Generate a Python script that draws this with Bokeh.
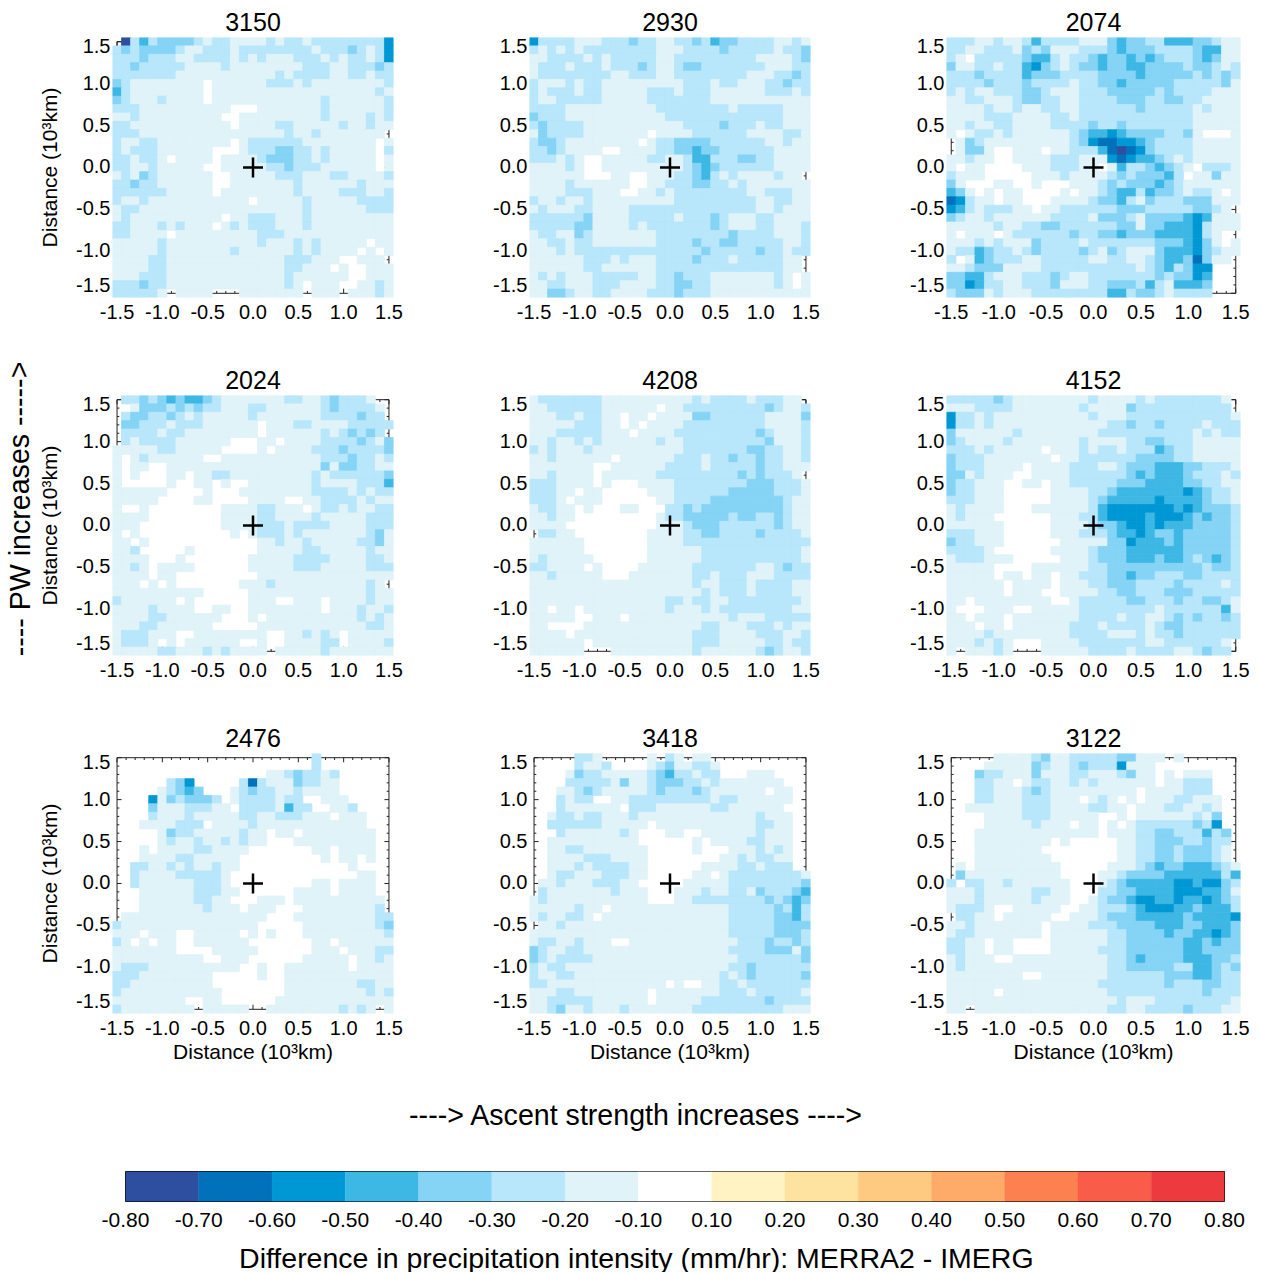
from bokeh.embed import file_html
from bokeh.resources import INLINE
from bokeh.plotting import figure
from bokeh.layouts import column, row
from bokeh.models import Range1d, FixedTicker, Label

FONT = "Liberation Sans"

# Bin colours by level: 0 = |diff| < 0.1 (left undrawn), 1 = -0.1..-0.2, ... 7 = -0.7..-0.8
LEVEL_COLORS = [None, "#DFF3F8", "#B8E6FA", "#85D3F5", "#3DB7E4", "#0098D4", "#0071BA", "#2E4FA0"]

CB_BOUNDS = [-0.8, -0.7, -0.6, -0.5, -0.4, -0.3, -0.2, -0.1, 0.1, 0.2, 0.3, 0.4, 0.5, 0.6, 0.7, 0.8]
CB_COLORS = ["#2E4FA0", "#0071BA", "#0098D4", "#3DB7E4", "#85D3F5", "#B8E6FA", "#DFF3F8", "#FFFFFF",
             "#FFF3C4", "#FEE29F", "#FEC980", "#FEAB6A", "#FD8050", "#FA5C4A", "#EC3A3F"]

TITLES = ["3150", "2930", "2074", "2024", "4208", "4152", "2476", "3418", "3122"]

TICKS = [-1.5, -1.0, -0.5, 0.0, 0.5, 1.0, 1.5]
TICK_LABELS = ["-1.5", "-1.0", "-0.5", "0.0", "0.5", "1.0", "1.5"]

# Each row: top (y=1.5) to bottom (y=-1.5); each char a level, x=-1.5 to x=1.5
P3150 = [
"0 7 2 4 2 3333 2 1 22 1111 2 1 22 1 22222222 5",
"2 3 2 3333 2 11 222 1 22222222 1 222 3 2 1 2 5",
"222 3 222 11 2222 1 2 1 2 111 222 1 2 1 22 1 2 5",
"22 3 22222 1111 2 11111111 222 11 222 3 2",
"2222222 11111111111 2 1 2222 11 22 1 22",
"3 2 11111111 0 111111 222 1 2 11111111 2",
"4 2 11111111 0 111111111111111111 2 1",
"3 2 111 2 1111 0 111111111111 2 111111 2",
"222 1111111111 000 1111111 2 111111 2",
"11 2 111111111 00 111111111 2 1111 2 1 2",
"22 11111111111 0 1111 22 11111 2 11 2 11",
"222 1111111111111111 2 11 2 1111111 0",
"2 11 22 11111111 0 1 222222 11111111 0 1",
"2 1 222 111111 000 1 222 33 22 1 2 11111 0 2",
"22 1 22 1 0 1111 0 1111 2 333 22 1 2 11111 0 1",
"22 11 2 11111 00 11111 22 3 222 111111 0 1",
"1 2 1 3 2 111111 00 11111 222 111 22 1111 2",
"22 3 22 111111 00 1111111 2 111111 2 1111",
"222222 11111 0 11111111 2 1111 222 11 2",
"2 11 2 11111111111 0 11111 2 11111 2222",
"1 22 111111111111111111 2 111111 222",
"1 2 1111111111 0 11 222 111 2 111111111",
"22 111 2 1 2 111 0 1 2 1 222 111 2 111111111",
"22 1111 0 111111111 222 111111111111",
"11111 2 1111111111 2 111 2 1 2 11111 0 11",
"11111 2 1111111 2 111111 2 1 2 1111 0 1 0 1",
"1111 22 1111111111111 222 111 00 111 0",
"1111 22 1111111111111 22 111 0 1 00 111",
"111 222 1111111111111 2 111111 00 111",
"222 3 22 1111111111111 2 1 0 111 00 11 2 1",
"22222 1 0 1111 000 1111111 0 111 0 111 2 1",
]

P2930 = [
"5 2222 111 222 3 22 11 22 3 2 4 33 2222 11 2 1",
"212121 22222222 111 2222 3 22222 1 22 3",
"11 2222 1 2 1 22222 11 222222222 1111 2 3",
"1 222 1 222 1 2 2 2 3 2 11 2 33 222222 2 111 22",
"1 22222222 11 222 11 22222222 111 22 3 2",
"2 111 2 1 22 111111111 222 1 22 111 22 3 2 2",
"2 1 222 1 22 11111 222 1 222 111111 222 1 2",
"2 11 22222 11111 2222222 11111111111",
"2222 1111111111 22222222 1 22222 111",
"3 222 11111111111 2222222222222 111",
"2 3 2222 11111111111 2222 3 222 1 22 111",
"1 3 2222 1111111 0 1111 222222 1111 22 1",
"2 33 2 11111111 0 1 22 3333 222222 11 2 11",
"22 3 2 1111 00 1111 22 33 4 33 222222 1111",
"222 1 2 1 00 11111 22 11 2 44 222 33 22 1111",
"1111 2 1 00 1111111 11 2 3 4 3 222222 1111",
"111111 000 11 00 111 22 3 4 2 1 2 1111 2 11 0",
"1111 2 111111 00 11 222 33 22 1 2 1111111",
"1111 222 111 00 11 2 1 22222222 11 222 11",
"2 11 2 11 2 111111111 222222222 11 22 11",
"1 2 111 22 1111 22222222222222 11 2 111",
"222222 3 1111 2222 2 1 222 3 2 111 22 1111",
"22222 33 1111 2 1 2222222 3 2 111 22 111 2",
"1 22 11 3 2 1111111 22222222 3 2222 111 2",
"11 22 1 22 1111111 2222 3 22 33 22222 11 2",
"111 2 1 22222222222222 3 22222 3 22 1 22",
"111111 222 1 2 111 2222 3 222 1 22222 11 0",
"111111 22 111111 22222222222222 11 0",
"1 2 1 2 111 22222 11 22 3 222 1111111 2 1 0 1",
"11 22 111 222 1111 22 33 22 1111111 2 1 0 1",
"11 33 2 11 22 1111 222 3 222 11111111111",
]

P2074 = [
"222 11 2 11 2 4 2222 111 3 4 33 22 444 33 2 11",
"22 11 222 1 3 2 3 111 222 3 4 333 2222 3 44 11",
"2 1 0 22222 3 44 2 1 22 3 4 33 4 3 4 3 222 3 4 3 11",
"3 11 22 1 22 4 5 3 2 1 2 33 4 33 44 3333 2 33 2 1 2",
"222 3 2222 4 3 33 2222 3333 4 33333 2 3 2 3 2",
"2222 3 222 3 2222 1 22 33 4 33 333 22222 3 1",
"2 1 2 11 222 33 2 111 222 33333 2 3 2222 111",
"11 22 111 2 33 22 11 2222 333 22 33 22 1111",
"1111 2 11 2 11 22 11 222222 3 22222 1 2 111",
"1111 222 1111 22 1 222222222222 11111",
"11 2 11 22 1111 2222 3 22 3 2222222 11111",
"1 0 1 22 1 2 111111 2 3 44 5 4 3333 22 3 1 000 1",
"0 1 3 2 111111111 2 3 5 66 55 4 3 2222 11111",
"0 1 33 1 00 111 0 11 222 4 6 7 6 5 3 2222 11111",
"11 2 11 00 1111 222 11 1 5 6 5 44 3 2 1 2 11111",
"1 0 1 1 0000 111 222 1 1 0 1 4 2 2 3 4 3 2 1 0 222 1",
"2 111 00000 111 2 1111 2 3 2 333 4 2 0 1 1 3 11",
"3 1 000 11 00 1 000 111 2 3 2 333 4 3 2 1 11111",
"4 3 1 0 1 0 11 0000 1 0 11 2 3 44 2 4 33 2 1 22 1 0 1",
"6 5 2 11 0 11 000 1111 2 33 4 2 1 3 222 333 111",
"5 4 2 1 222 11 0 11 222222 333 2 2222 33 2 1 0",
"3 2 11 2 111111 2222 1 333 2 1 3333 4 5 4 111",
"1111 1 2 11 22 33 222222 33 1 3 3 44 4 5 2 1 11",
"1 0 111 0 1 222222 3 22 33 4 333 4444 5 2 1 00",
"111 2 1 2 11 1 3 2222 1 2222222 333 4 5 3 1 0 1",
"1 22 4 3 22 1 2 3 2222 3 2 1 3 2 111 3 444 5 3 2 11",
"2 0 1 4 3 222 11 22222 11 22 11 2 3 44 3 6 3 1 1 0",
"11 2 333 1111 222222 2222 1 2 3 4 2 3 55 000",
"33 44 2 111 222 3 2 11 2222222 3 2 3 3 5 4 000",
"33 5 4 2 2 11 222 3 1 1 1 22 333 2 4 2 1 44 4 3 000",
"2 333 1 2 111 2222222 2 44 2 33 2 1 2222 000",
]

P2024 = [
"0 22 3 2 3 4 3 44 3 2 1111111 22 11 2 3 222 1 00",
"00 1 333 2 3 2 3 22 111 22 111111 2 3 2222 1 0",
"0 2 33 22 3 2 1 2 11111 2 1111111 2222 3 22 0",
"0 33 222 1 222 111111 0 11 1 22 1111 22222 0",
"0 2222 1 22 11111111 0 111111 2 1 2 3 2 3 2 0",
"0 2 1 2222 111111 000 11 0 1111 2222 3 2 1 3",
"11111 22 11111 0000 1 0 1111 222 3 2222 3",
"1 0 1 2 111111 00 11111111111 222 3 22 1 2",
"1 0 11 00 11111111111111111 3 1 33 22 11",
"1 0 1 000 11 0 11 22 111111111 2 1 222222 3",
"1 00000 1 00 11 0 1 00 1111111 2 1111 2 22 4",
"111111 0000 1 000 11111111 2222 1 2 1 22",
"11111 0000 11 0000 1111 00 11 2222 1 2 11",
"1 00 1 00000000 1111 22 111 0 1 22 1 2 11 22",
"1111 00000000 1111 22 1111 2 11111 222",
"111 000000000 1111 222 1 2222 1111 222",
"1 0 1 0000000000 1 0 1 222 1 2 1111111 2 3 1",
"11 0 1 000000000000 11 2 11 2 11111 22 3 1",
"11 2 00000 1 0000000 11111 22 11111 2 11",
"1111 000 1 0000000 11111 2222 1111 22 1",
"11 2 1 0 1111 000000 11111 222 11111 222",
"1111 0 11 00000000 0 111111111111111",
"111 0 1 0 1 0000000 111 2 1111111111 2 1 0",
"1111111111 00000 1111111111111 2 11",
"2 111111 0 1 00 0000 111 00 111 0 1111 2 11",
"1111 2 1111 00 11 00 11111111 0 111 2 11 2",
"1111 22 111111 000 1 0 1111111111 2 1 2 1",
"111 22 111111 00000 111111111111 22 1",
"1 222 111 00 11111111 00 11 2 1 2 1 0 11111",
"1 222 1 0 1 0 111111 00 1 00 1111 22 0 1111 2",
"11111 22 111 2 1 2 1111 0 11111 2 1111111",
]

P4208 = [
"1 2222222 1111111111 2 1 2222 1 222 11 0",
"11 222222 111111 0 11 222222222 3 2 11 2",
"111 22 1 22 11 0 11 0 1111 33 222222 1111 3",
"11111 222 11 0 1 0 1111 222222222 1111 2",
"111 22222 111 0 1111 222222222 3 2 111 2",
"11 2 11 2 1 2 111111 2 11 222222222 3 111 2",
"2 1 2 111 2 1111111111 2222222 33 22 11 2",
"11 2 111111 0 111111 222 1 22 3 22 3 22 11 2",
"1111111 00 111111 2222 1 22222 3 22 111",
"11 2 1111 0 111111 222222222 3 2 3 222 1 0",
"222 1111 0 1 000 1111 22222222 333 222 1",
"222 11 0 11 00000 111 222222 33333 222 1",
"222 1 0 111 000000 11 2222 33333333 2 11",
"1 22 11 0 1 000 11 000 22 3 2 333333333 2 11",
"11 2 11 000000000 1 22 33333 2 33 22 3 2 11",
"1111 0000000000 111 2 333 222222 3 2 11",
"0 22 11 00000000 1111 22 33 2222 3 2222 1",
"111111 0000000 1111 22222222222222",
"111111 0000000 111111 22222222222 1",
"1 2 11111 000000 111111 22222222222 1",
"22 1111 0 1 0000 111111 2222222 11 2 3 22",
"11 2 11111 000 1111111 22 1 222 111 2222",
"111111111111111111 2 11 222 1 2222 11",
"1111111111111111111 2 1 222 1 2222 11",
"111111111111111 22 1 22 11 22222222 1",
"11 0 11 0 111111111 2 111 2 1 22222222 11",
"11111 00 111 0 11111111111 2 111 22222",
"11 0000 1111111111111 22 111 222 1 2 11",
"1111 0 1111111111111 222 1111 222 11 2",
"111111 0 11111111111 222 11111 22 1 22",
"111111 000 111111111 2 111111 2 3 2 11 2",
]

P4152 = [
"22222 3 2 11111111 2 1111 2 1 2222222 1 0",
"111 2222 1111111 2 1111 3 2222222222 0",
"5 22 1 2 1111111111 2 111 22222222222 1",
"5 22 1 2 111111111111 22 3 22 3 2222 1 222",
"3 111111 2 11111111 2222222222 1 2 1 22",
"3 2 1111 2 1111111 2 1111 22 33 222 11111",
"222 1 2 11111 0 111 2 1 22 1 222 4 3 22 11111",
"3 222 1111111 0 11 222222 3333 22 11111",
"3 222 1111 0 1111 222 11 2 333 444 33 222 1",
"33 1 2 111 00 1111 222222 3 4 3 444 3 222 1 2",
"3 22 111 00 11 0 11 22222 333 4444 3 3 22 11",
"3 22 111 00000 1111 22 3 4444444 5 4 3 22 1",
"222 111 00000 1111 2 3 44444 5 4444 3 22 1",
"1 2 1111 000 111111 2 4 5555555 4 5 4 333 2",
"1 2 111 000000 111 22 4 5555 4 555 4 3 4 33 2",
"111111 00000 1111 2 33 4 55 4 5 444 3333 2",
"222 111 00000 111 2 22 3 44 5 4 33 4 33333 2",
"3 22 111 000000 1111 1 33 5 444 3 4 33333 2",
"2222 1 000000 1111 2 333 444444 33333 2",
"1 222 111 00000 111 2 333 444 3 44 3 2 3 4 3 2",
"11111 0000 111111 22 3333333333 2 33 2",
"11111 0 11 0 11 0 11 222 33 4 33 222 33 2222",
"111111 0 1111 0 111 22 333 2222 3 222 2 1 2",
"111111 0 111 00 1111 22 33 222 333 22222",
"11 0 11111111 00 1 22222 33 222 3 22 33 2 1",
"1 000 111 00 11111 22222222 1 222222 4 1",
"11 0 111 0 1111111 2222 1 22 11 2 3 2 3 22 3 2",
"111 0 11 0 111111 222 1 2222 1 2 33 222222",
"1111 2 11111111 2222 111 2 1 22 3 222222",
"111 2 1 2 1 000 1111 2222222 11 222222 1 0",
"1 0 111 2 1 000 11111 2222 1 2222 11 2 3 22 0",
]

P2476 = [
"0000000000000000000000 2 00000000",
"0000000000000000000000 2 00000000",
"00000000000000000 11 2 3 22 1 2 000000",
"000000 2 3 5 00000 2 6 2 11 1 3 22 11 000000",
"00000 1 2 3 4 3 000 1 2 3 22 11 2 1111 000000",
"0000 5 1 3 2 333 2 0 1 2222 1 22 00 111 00000",
"0000 3 111 222 11 0 2222 1 4 22 00 11 2 0000",
"0000 2 111 2 11111 22 11 222 111 0 111 000",
"000 1111 222 0 1111 2 111111111111 000",
"00000 1 3 22 11111 2 11 0 11 0 11111111 00",
"00000 1 2 11 2 11 2 1 2 11 000 111111111 00",
"000 1 0 1111 22 1111 0000000 11 0 1111 00",
"000 1111 22 11111 000000000 1 0 11 0 1 00",
"00 22 11 2 1 2 11 2 11 000000000000 1 0000",
"00 2 1111 22222 1 00000000000000 11 00",
"00 2 111111 222 1 000000000 11 0 1111 00",
"000 111111 222 11 000000 1111 0 1111 00",
"000 111111 22 11 000 111 0 1111111111 0",
"000 1111111 2 111 0 111 000 11111111 2 0",
"0 1111111111111111 000 111111111 22",
"2 111111111111111 00000 11111111 2 3",
"111 0 111 00 11111 0 1 0 1 000 111111111 2",
"2 1 0 1 0 11 00 111111 0000000 11 0 111111",
"1111111 0000 11111 000000 111 0 111 22",
"1111111111 00 111 000000 11111 0 11 2 1",
"1 222 1111111111 00 1 00 1111111 0 1111",
"222 11111111 00000 1 00 111111111111",
"22 111111111 00000000 11111111 22 11",
"2 11111111111 0000000 111111111 2 1 2",
"11111111 00 11 000000 1111111111111",
"2 11111111 0 11111 00 11111111 2 1 2 1 0 1",
]

P3418 = [
"00000 22 1 00000 1 0 2 1 0 11 00000000000",
"00000 2 11 2 0000 1 2 3 1 1 22 1 0000000000",
"0000 1 3 22 1111 1 2 3 4 22 1 22 000 111 0000",
"0000 22222 1 3 11 2 3 33 2 2 1 2 1111111 000",
"000 11 2 3 2 11111 2 3 222 3 2 111111 0 11 00",
"000 2 1 22 00 11 222222222 1 22 111111 00",
"000 2 111111 0 222 111111 22 111111 000",
"00 1 22 1 22 111 2 1111111111111 2 111 00",
"00 222222 11111 0 11111111111 22 11 00",
"000 2 111111 2 1 000 11 00 111111 2 111 00",
"00 1111111111 000000 1 0 1111 22 111 00",
"00 11 22 1111111 00000 1 000 111 2 1 2 1 00",
"00 1111 222 1111 00000000 11 2 1 22 11 00",
"00 111 2 1 2222 11 000000 1111 22 1 222 00",
"00 1 22 111 222 11 00000 11 0 1 22222222 1",
"0 11 2 111 222 11 00000 11111 22222222 3",
"0 2 1111111 2 111 000 111 2 11 22 1 3 22 2 3 4",
"1 2 11111111111 000 11 2222 2222 3 2 3 4 3",
"11111 2 11 0 1111111111111 22222 3 2 4 2",
"1 2 11 22 1 0 11111111111111 22222 33 4 2",
"0 11 2 111111111111111111 22222 3333",
"1111111111111111111111 22222 333 2",
"1 22 11 2 111 00 111111111111 222 3 22 3 2",
"3 2 11 22 1111111111111111 2222 333 1 3",
"3 2 1 222 2 111111111111111 1 2222222 3",
"2 1 22 1 11111111111111111 22 3 22222 2",
"2 11 22 1111111111111111 2 1 2 3 22222 3",
"22 1111111111111 0 1 00 11 22 1 2222222",
"111 22 11111111 0 1111111 222 1 22222 1",
"11 22222 111111 0 11111 2222222 3 2222",
"11 2 3 11 2 111 2 1111111 2222222222 111",
]

P3122 = [
"00000 1111 2 3 11 22222 33 111 0 1 000000",
"0000 11111 3 2 11 2 3 222 5 11 1 000000000",
"000 3 22 111 3 1 11 22 111 2 3 11 0 1 0 111 000",
"000 22 11 0 1 22 11 2 1 2 111111 0 11 222 000",
"000 22 111 2 3 2 111111111 0 1111 222 000",
"000 22 111 222 111 0 1 2 1 0 1 0 111 22 111 00",
"00 111111 222 1111 22 11 0 111 22 11 2 1 00",
"0000 1111 222 11111 00 1 0 111111 2 1 3 00",
"0000 1111 1 2 111 0 11 0 1 0 1 222222 3 2 5 00",
"000 1111111111111 0 111 22 33 222 4 2 3 0",
"000 11111111 0 1 00000 11 22 333 22 3 22 0",
"000 1111111 00000000 11 22 33 2 3 33 2 1 0",
"000 11111111 0000000 11 22 33 2 333 2 1 0",
"0 1 0 111111111 00000 111 2 3 4 33 444 3 2 1",
"0 3 1111111111 0000 11 2 3333 444444 2 4",
"2 0 22 11 2 111111 000 1 2 3 44444 55 4 55 3 2",
"111 2 11111 22 11 000 22 33 4444 555 44 3 1",
"111 2 11111 2 111 00 1 2 33 4 55 44 5 44 5 4 3 2",
"1 222 1 00 11111 00 11 222 3 4 555 44 3 444 2",
"0 22 11 0 11111 00 111 2 333 44444 3 4444 5",
"11 2 1111111 0 1111 222 3333 444 3 3 444 3",
"1 22 1111111 0 111111 22 3333 4 33 44 5 4 3",
"22 11 0 11 0000 111111 22 333333 44 3 4 33",
"22 11 0 11 0000 11111 222 333333 44 3333",
"1 2 111 00 1111111111 22 3 4 3333 444 33 2",
"1 2 111111111111111 22 33333 22 44 3 2 3",
"11111111 00 1111111 222222 333 44 3 22",
"1111111111111111 2222222 3 222 33 22",
"11111 0 11111111111 2222222222 3 222",
"111111111111111111 2 111 22222222 1",
"11 0 11111111111111 22 11 2222 3 222 11",
]

PANELS = [P3150, P2930, P2074, P2024, P4208, P4152, P2476, P3418, P3122]


def cells(rows):
    xs, ys, colors = [], [], []
    for r, text in enumerate(rows):
        digits = text.replace(" ", "").ljust(31, "1")[:31]
        for c, ch in enumerate(digits):
            level = int(ch)
            if level:
                xs.append(-1.5 + 0.1 * c)
                ys.append(1.5 - 0.1 * r)
                colors.append(LEVEL_COLORS[level])
    return xs, ys, colors


def frame_segments():
    x0, y0, x1, y1 = [], [], [], []
    def seg(a, b, c, d):
        x0.append(a); y0.append(b); x1.append(c); y1.append(d)
    for a, b, c, d in [(-1.5, -1.5, 1.5, -1.5), (-1.5, 1.5, 1.5, 1.5), (-1.5, -1.5, -1.5, 1.5), (1.5, -1.5, 1.5, 1.5)]:
        seg(a, b, c, d)
    for i in range(31):
        t = round(-1.5 + 0.1 * i, 1)
        major = i % 5 == 0
        lx = 0.05 if major else 0.025
        ly = 0.055 if major else 0.028
        seg(t, -1.5, t, -1.5 + ly)
        seg(t, 1.5, t, 1.5 - ly)
        seg(-1.5, t, -1.5 + lx, t)
        seg(1.5, t, 1.5 - lx, t)
    return x0, y0, x1, y1


def panel(index, left, right, frame_w, top, bottom, xlabel, ylabel):
    p = figure(frame_width=frame_w, frame_height=260, output_backend="svg", toolbar_location=None,
               x_range=Range1d(-1.55, 1.55), y_range=Range1d(-1.55, 1.55),
               min_border_left=left, min_border_right=right, min_border_top=top, min_border_bottom=bottom,
               title=TITLES[index])
    p.title.align = "center"
    p.title.text_font = FONT
    p.title.text_font_size = "25px"
    p.title.text_font_style = "normal"
    p.title.text_color = "black"
    p.title.standoff = 13
    p.outline_line_color = None
    p.grid.visible = False
    x0, y0, x1, y1 = frame_segments()
    p.segment(x0, y0, x1, y1, line_color="#222222", line_width=1)
    xs, ys, colors = cells(PANELS[index])
    p.rect(xs, ys, width=0.1, height=0.1, fill_color=colors, line_color=colors, line_width=0.8)
    p.scatter([0.0], [0.0], marker="cross", size=20, line_color="black", line_width=2.5, fill_color=None)
    p.xaxis.ticker = FixedTicker(ticks=TICKS)
    p.xaxis.major_label_overrides = dict(zip(TICKS, TICK_LABELS))
    y_pos = [-1.403, -0.988, -0.488, 0.012, 0.512, 1.012, 1.452]
    p.yaxis.ticker = FixedTicker(ticks=y_pos)
    p.yaxis.major_label_overrides = dict(zip(y_pos, TICK_LABELS))
    for ax in (p.xaxis[0], p.yaxis[0]):
        ax.axis_line_color = None
        ax.major_tick_line_color = None
        ax.minor_tick_line_color = None
        ax.major_tick_in = 0
        ax.major_tick_out = 0
        ax.minor_tick_out = 0
        ax.major_label_text_font = FONT
        ax.major_label_text_font_size = "20px"
        ax.major_label_text_color = "black"
        ax.axis_label_text_font = FONT
        ax.axis_label_text_font_size = "21px"
        ax.axis_label_text_font_style = "normal"
        ax.axis_label_text_color = "black"
    p.xaxis.major_label_standoff = 7
    p.yaxis.major_label_standoff = 2
    p.yaxis.major_label_orientation = "horizontal"
    if xlabel:
        p.xaxis.axis_label = "Distance (10³km)"
        p.xaxis.axis_label_standoff = 2
    if ylabel:
        p.yaxis.axis_label = "Distance (10³km)"
        p.yaxis.axis_label_standoff = 12
    return p


def text_strip(width, height, x, y, text, size, angle=0.0):
    s = figure(width=width, height=height, output_backend="svg", toolbar_location=None,
               x_range=Range1d(0, width), y_range=Range1d(0, height),
               x_axis_type=None, y_axis_type=None, min_border=0)
    s.outline_line_color = None
    s.grid.visible = False
    s.add_layout(Label(x=x, y=y, text=text, angle=angle, text_font=FONT, text_font_size=size,
                       text_align="center", text_baseline="middle", text_color="black"))
    return s


COLS = [(77, 57, 281), (79, 60, 281), (76, 10, 294)]
ROWS = [(37, 53), (45, 53), (45, 62)]

rows = []
for ri, (top, bottom) in enumerate(ROWS):
    line = []
    for ci, (left, right, fw) in enumerate(COLS):
        line.append(panel(ri * 3 + ci, left, right, fw, top, bottom, ri == 2, ci == 0))
    rows.append(row(*line))

pw = text_strip(35, 1075, 19, 1075 - 508.5, "---- PW increases ----->", "28.6px", angle=1.5708)
header = text_strip(1250, 85, 581, 46, "----> Ascent strength increases ---->", "28.6px")
footer = text_strip(1250, 31, 581, 15, "Difference in precipitation intensity (mm/hr): MERRA2 - IMERG", "28.5px")

cb = figure(frame_width=1099, frame_height=30, output_backend="svg", toolbar_location=None,
            x_range=Range1d(0, len(CB_COLORS)), y_range=Range1d(0, 1),
            min_border_left=125, min_border_right=26, min_border_top=11, min_border_bottom=40)
cb.outline_line_color = "black"
cb.outline_line_width = 1
cb.grid.visible = False
cb.yaxis.visible = False
edges = list(range(len(CB_BOUNDS)))
cb.quad(left=edges[:-1], right=edges[1:], bottom=0, top=1, fill_color=CB_COLORS, line_color=CB_COLORS, line_width=0.4)
cb.xaxis.ticker = FixedTicker(ticks=edges)
cb.xaxis.major_label_overrides = {i: f"{b:.2f}" for i, b in zip(edges, CB_BOUNDS)}
ax = cb.xaxis[0]
ax.axis_line_color = None
ax.major_tick_line_color = None
ax.minor_tick_line_color = None
ax.major_tick_in = 0
ax.major_tick_out = 0
ax.minor_tick_out = 0
ax.major_label_standoff = 11
ax.major_label_text_font = FONT
ax.major_label_text_font_size = "21px"
ax.major_label_text_color = "black"

layout = column(row(pw, column(*rows)), header, cb, footer)
open("out.html", "w").write(file_html(layout, INLINE))
